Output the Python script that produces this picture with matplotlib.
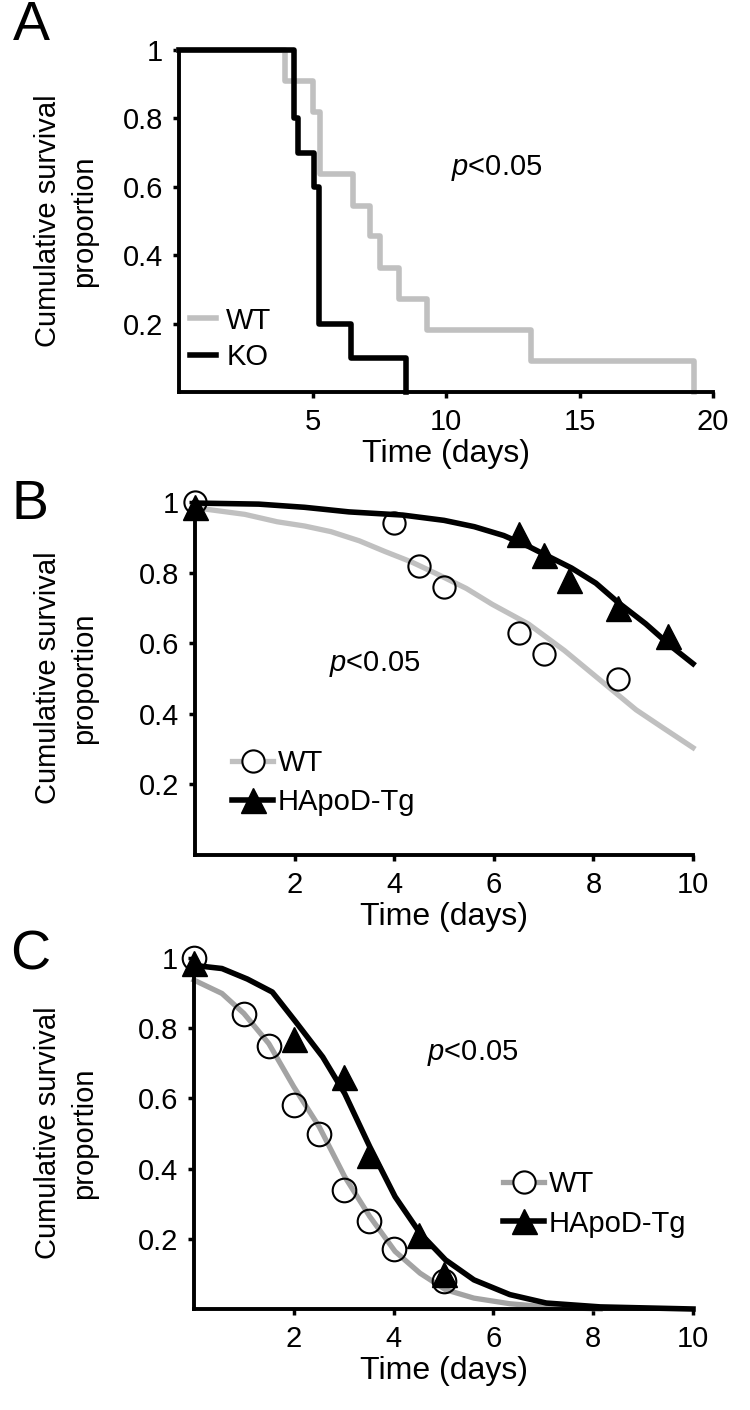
import matplotlib
matplotlib.use("Agg")
import matplotlib.pyplot as plt
from matplotlib.lines import Line2D

plt.rcParams['font.family'] = ['Liberation Sans', 'DejaVu Sans']
plt.rcParams['mathtext.fontset'] = 'custom'
plt.rcParams['mathtext.it'] = 'Liberation Sans:italic'
plt.rcParams['mathtext.rm'] = 'Liberation Sans'

# ---------------- Panel A: Kaplan-Meier steps ----------------
a_wt_time = [0, 3.96, 5.0, 5.28, 6.52, 7.14, 7.53, 8.25, 9.28, 13.2, 19.3]
a_wt_surv = [1.0, 0.909, 0.818, 0.636, 0.545, 0.455, 0.364, 0.273, 0.182, 0.091, 0.0]
a_ko_time = [0, 4.31, 4.45, 5.05, 5.25, 6.45, 8.5]
a_ko_surv = [1.0, 0.8, 0.7, 0.6, 0.2, 0.1, 0.0]

# ---------------- Panel B ----------------
b_wt_pts_t = [0, 4.0, 4.5, 5.0, 6.5, 7.0, 8.5]
b_wt_pts_s = [1.0, 0.94, 0.82, 0.76, 0.63, 0.57, 0.50]
b_tg_pts_t = [0, 6.5, 7.0, 7.5, 8.5, 9.5]
b_tg_pts_s = [0.985, 0.91, 0.85, 0.78, 0.70, 0.62]
b_wt_fit_t = [0.0, 0.2, 1.0, 1.65, 2.2, 2.73, 3.3, 3.81, 4.35, 4.89, 5.45, 5.97, 6.7, 7.42, 8.14, 8.86, 9.4, 10.0]
b_wt_fit_s = [0.985, 0.98, 0.965, 0.944, 0.932, 0.916, 0.89, 0.86, 0.83, 0.794, 0.755, 0.71, 0.654, 0.579, 0.495, 0.411, 0.36, 0.304]
b_tg_fit_t = [0.0, 1.28, 2.2, 3.09, 4.17, 5.0, 5.61, 6.2, 6.7, 7.56, 8.05, 8.5, 9.05, 9.58, 10.0]
b_tg_fit_s = [0.997, 0.994, 0.985, 0.972, 0.963, 0.948, 0.93, 0.905, 0.874, 0.813, 0.77, 0.715, 0.655, 0.589, 0.542]

# ---------------- Panel C ----------------
c_wt_pts_t = [0, 1.0, 1.5, 2.0, 2.5, 3.0, 3.5, 4.0, 5.0]
c_wt_pts_s = [1.0, 0.84, 0.75, 0.58, 0.50, 0.34, 0.25, 0.17, 0.08]
c_tg_pts_t = [0, 2.0, 3.0, 3.5, 4.5, 5.0]
c_tg_pts_s = [0.985, 0.77, 0.66, 0.44, 0.21, 0.10]
c_wt_fit_t = [0.0, 0.56, 1.0, 1.5, 2.0, 2.51, 3.02, 3.52, 4.03, 4.53, 5.04, 5.61, 6.33, 7.06, 8.14]
c_wt_fit_s = [0.937, 0.899, 0.842, 0.756, 0.633, 0.519, 0.377, 0.264, 0.164, 0.102, 0.055, 0.031, 0.015, 0.006, 0.0]
c_tg_fit_t = [0.0, 0.56, 1.07, 1.57, 2.04, 2.58, 3.02, 3.52, 4.03, 4.53, 5.04, 5.61, 6.33, 7.06, 8.14, 10.0]
c_tg_fit_s = [0.979, 0.97, 0.94, 0.903, 0.818, 0.718, 0.614, 0.463, 0.32, 0.216, 0.14, 0.083, 0.041, 0.017, 0.006, 0.0]

y_ticks = [0.2, 0.4, 0.6, 0.8, 1.0]
y_ticklabels = ['0.2', '0.4', '0.6', '0.8', '1']
a_xticks = [5, 10, 15, 20]
bc_xticks = [2, 4, 6, 8, 10]

LIGHT = '#c0c0c0'
MID = '#a3a3a3'
TICK_FS = 21
LAB_FS = 23

W, H = 750, 1410
fig = plt.figure(figsize=(W / 100, H / 100), dpi=100)


def make_axes(left, right, top, bottom):
    return fig.add_axes([left / W, 1 - bottom / H, (right - left) / W, (bottom - top) / H])


def style(ax, xlim, xticks):
    ax.set_xlim(*xlim)
    ax.set_ylim(0, 1)
    for s in ('top', 'right'):
        ax.spines[s].set_visible(False)
    for s in ('left', 'bottom'):
        ax.spines[s].set_linewidth(2.8)
    ax.set_xticks(xticks)
    ax.set_xticklabels([str(t) for t in xticks])
    ax.set_yticks(y_ticks)
    ax.set_yticklabels(y_ticklabels)
    ax.tick_params(direction='out', length=4.5, width=2.5, labelsize=TICK_FS, pad=7)
    ax.set_xlabel('Time (days)', fontsize=LAB_FS, labelpad=2)


def ylab(ycenter):
    fig.text(66 / W, 1 - ycenter / H, 'Cumulative survival\nproportion', rotation=90,
             ha='center', va='center', multialignment='center', fontsize=21, linespacing=1.4)


# Panel A
axA = make_axes(179, 713, 50, 392)
axA.step(a_wt_time, a_wt_surv, where='post', color=LIGHT, lw=4.0, clip_on=False, label='WT')
axA.step(a_ko_time, a_ko_surv, where='post', color='black', lw=4.0, clip_on=False, label='KO')
style(axA, (0, 20), a_xticks)
axA.text(11.9, 0.655, r'$p$<0.05', fontsize=TICK_FS, ha='center', va='center')
axA.legend(loc='center left', bbox_to_anchor=(0.02, 0.155), frameon=False, fontsize=TICK_FS,
           handlelength=0.9, handletextpad=0.35, labelspacing=0.3, borderpad=0, borderaxespad=0)
ylab(221)
fig.text(31 / W, 1 - 26 / H, 'A', fontsize=40, ha='center', va='center')

# Panel B
axB = make_axes(195, 693, 502, 855)
axB.plot(b_wt_fit_t, b_wt_fit_s, color=LIGHT, lw=3.8, clip_on=False)
axB.plot(b_tg_fit_t, b_tg_fit_s, color='black', lw=4.0, clip_on=False)
axB.plot(b_wt_pts_t, b_wt_pts_s, ls='none', marker='o', ms=16, mfc='none', mec='black', mew=1.5, clip_on=False)
axB.plot(b_tg_pts_t, b_tg_pts_s, ls='none', marker='^', ms=18, mfc='black', mec='black', clip_on=False)
style(axB, (0, 10), bc_xticks)
axB.text(3.6, 0.54, r'$p$<0.05', fontsize=TICK_FS, ha='center', va='center')
hB = [Line2D([], [], color=LIGHT, lw=3.8, marker='o', ms=16, mfc='white', mec='black', mew=1.5),
      Line2D([], [], color='black', lw=4.0, marker='^', ms=18, mfc='black', mec='black')]
axB.legend(hB, ['WT', 'HApoD-Tg'], loc='center left', bbox_to_anchor=(0.075, 0.205), frameon=False,
           fontsize=TICK_FS, handlelength=1.4, handletextpad=0.15, labelspacing=0.4,
           borderpad=0, borderaxespad=0)
ylab(678)
fig.text(30 / W, 1 - 505 / H, 'B', fontsize=40, ha='center', va='center')

# Panel C
axC = make_axes(194, 693, 958, 1309)
axC.plot(c_wt_fit_t, c_wt_fit_s, color=MID, lw=3.8, clip_on=False)
axC.plot(c_tg_fit_t, c_tg_fit_s, color='black', lw=4.0, clip_on=False)
axC.plot(c_wt_pts_t, c_wt_pts_s, ls='none', marker='o', ms=17, mfc='none', mec='black', mew=1.5, clip_on=False)
axC.plot(c_tg_pts_t, c_tg_pts_s, ls='none', marker='^', ms=18, mfc='black', mec='black', clip_on=False)
style(axC, (0, 10), bc_xticks)
axC.text(5.58, 0.73, r'$p$<0.05', fontsize=TICK_FS, ha='center', va='center')
hC = [Line2D([], [], color=MID, lw=3.8, marker='o', ms=16, mfc='white', mec='black', mew=1.5),
      Line2D([], [], color='black', lw=4.0, marker='^', ms=18, mfc='black', mec='black')]
axC.legend(hC, ['WT', 'HApoD-Tg'], loc='center left', bbox_to_anchor=(0.62, 0.30), frameon=False,
           fontsize=TICK_FS, handlelength=1.4, handletextpad=0.15, labelspacing=0.4,
           borderpad=0, borderaxespad=0)
ylab(1133)
fig.text(30 / W, 1 - 955 / H, 'C', fontsize=40, ha='center', va='center')

fig.savefig('out.png', dpi=100, facecolor='white')
